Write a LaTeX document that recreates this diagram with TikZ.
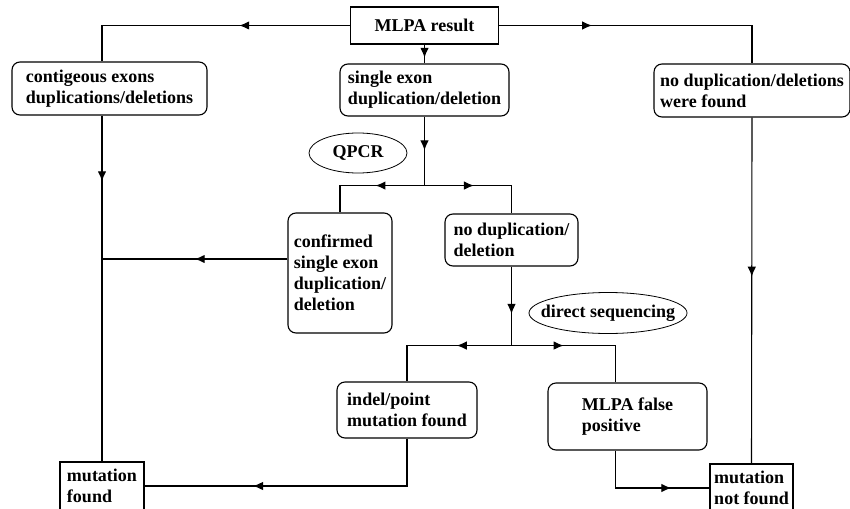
\documentclass[tikz,border=0pt]{standalone}
\usepackage{fontspec}
\setmainfont{Liberation Serif}
\usetikzlibrary{arrows.meta,decorations.markings,shapes.geometric}
\begin{document}
\begin{tikzpicture}[x=1pt, y=-1pt, line width=1.1pt,
	font=\fontsize{18}{21}\selectfont\bfseries,
	>={Latex[length=10pt,width=8.5pt]},
	flowbox/.style={draw, rounded corners=8pt, align=left, inner xsep=3pt, inner ysep=2pt},
	endbox/.style={draw, align=left, inner xsep=3pt, inner ysep=0pt},
	method/.style={draw, ellipse, line width=0.8pt, inner xsep=-12pt, inner ysep=0pt},
	arr/.style={postaction={decorate, decoration={markings, mark=at position #1 with {\arrow{>}}}}}]
		\path[use as bounding box, fill=white] (0,0) rectangle (850,508);

		\node[endbox, minimum width=148, minimum height=37] (mlpa) at (424.5,25.5) {MLPA result};
		\node[flowbox, minimum width=195, minimum height=53] (contig) at (109.5,88.5) {contigeous exons\\duplications/deletions};
		\node[flowbox, minimum width=169, minimum height=52] (single) at (424.5,90) {single exon\\duplication/deletion};
		\node[flowbox, minimum width=196, minimum height=53] (nodup) at (752,90.5) {no duplication/deletions\\were found};
		\node[method, minimum width=98, minimum height=40] (qpcr) at (358,153) {QPCR};
		\node[flowbox, minimum width=104, minimum height=120] (confirmed) at (340,273) {confirmed\\single exon\\duplication/\\deletion};
		\node[flowbox, minimum width=133, minimum height=52] (nodel) at (511.5,240) {no duplication/\\deletion};
		\node[method, minimum width=158, minimum height=41] (dseq) at (608,313) {direct sequencing};
		\node[flowbox, minimum width=140, minimum height=56] (indel) at (407,410) {indel/point\\mutation found};
		\node[flowbox, minimum width=159, minimum height=67] (falsepos) at (627.5,416.5) {MLPA false\\positive};
		\node[endbox, minimum width=84, minimum height=48] (mutfound) at (102,486) {mutation\\found};
		\node[endbox, minimum width=83, minimum height=48] (mutnot) at (751.5,488) {mutation\\not found};

		\coordinate (qj) at ([yshift=-69pt]single.south);
		\coordinate (dj) at ([yshift=-79pt]nodel.south);
		\coordinate (cj) at ([yshift=14pt]confirmed.west);

		\draw[arr=0.39] (mlpa.west) -| (mutfound.north |- contig.north);
		\draw[arr=0.32] (mlpa.east) -| (nodup.north);
		\draw[arr=0.7] (mlpa.south) -- (single.north);
		\draw[arr=0.49] (single.south) -- (qj);
		\draw[arr=0.44] (qj) -| (confirmed.north);
		\draw[arr=0.43] (qj) -| (nodel.north);
		\draw[arr=0.19] (contig.south -| mutfound.north) -- (mutfound.north);
		\draw[arr=0.5] (cj) -- (cj -| mutfound.north);
		\draw[arr=0.6] (nodel.south) -- (dj);
		\draw[arr=0.39] (dj) -| (indel.north);
		\draw[arr=0.37] (dj) -| ([xshift=-12pt]falsepos.north);
		\draw[arr=0.65] (indel.south) |- (mutfound.east);
		\draw[arr=0.71] ([xshift=-12pt]falsepos.south) |- (mutnot.west);
		\draw[arr=0.46] (nodup.south) -- (mutnot.north);
	\end{tikzpicture}
\end{document}
